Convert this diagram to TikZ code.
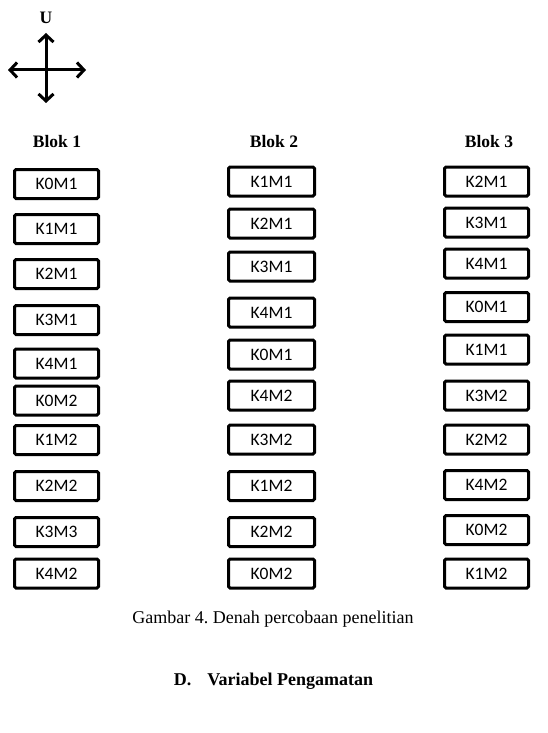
\documentclass[tikz,border=0pt]{standalone}
\usepackage{fontspec}
\setmainfont{Liberation Serif}
\newfontfamily\boxfont{Carlito}
\usetikzlibrary{arrows.meta}
\frenchspacing
\tikzset{
  plotbox/.style={draw, line width=3pt, rounded corners=1.5pt, minimum width=84pt, minimum height=29pt, inner sep=0pt, font=\boxfont\fontsize{17.5}{20}\selectfont},
  blocktitle/.style={font=\bfseries\fontsize{17.5}{20}\selectfont, inner sep=0pt},
  compass/.style={line width=3pt, {Straight Barb[length=7pt,width=15pt,line width=3pt]}-{Straight Barb[length=7pt,width=15pt,line width=3pt]}}
}
\begin{document}
\begin{tikzpicture}[x=1pt,y=-1pt]
\useasboundingbox (0,0) rectangle (548,733);
% compass
\node[blocktitle] (u) at (46,18) {U};
\coordinate (cn) at (46,33);
\coordinate (cs) at (46,103);
\coordinate (cw) at (8,70);
\coordinate (ce) at (86,70);
\draw[compass] (cn) -- (cs);
\draw[compass] (cw) -- (ce);
% titles
\node[blocktitle] (t1) at (57,142) {Blok 1};
\node[blocktitle] (t2) at (274,142) {Blok 2};
\node[blocktitle] (t3) at (489,142) {Blok 3};
% block 1
\node[plotbox] (a1) at (56.5,184) {K0M1};
\node[plotbox] (a2) at (56.5,229) {K1M1};
\node[plotbox] (a3) at (56.5,274) {K2M1};
\node[plotbox] (a4) at (56.5,320) {K3M1};
\node[plotbox] (a5) at (56.5,363.5) {K4M1};
\node[plotbox] (a6) at (56.5,400.5) {K0M2};
\node[plotbox] (a7) at (56.5,440) {K1M2};
\node[plotbox] (a8) at (56.5,486) {K2M2};
\node[plotbox] (a9) at (56.5,532) {K3M3};
\node[plotbox] (a10) at (56.5,573.5) {K4M2};
% block 2
\node[plotbox, minimum width=86pt] (b1) at (271.5,181.5) {K1M1};
\node[plotbox, minimum width=86pt] (b2) at (271.5,223.5) {K2M1};
\node[plotbox, minimum width=86pt] (b3) at (271.5,266.5) {K3M1};
\node[plotbox, minimum width=86pt] (b4) at (271.5,312.5) {K4M1};
\node[plotbox, minimum width=86pt] (b5) at (271.5,354.5) {K0M1};
\node[plotbox, minimum width=86pt] (b6) at (271.5,395.5) {K4M2};
\node[plotbox, minimum width=86pt] (b7) at (271.5,439.5) {K3M2};
\node[plotbox, minimum width=86pt] (b8) at (271.5,486) {K1M2};
\node[plotbox, minimum width=86pt] (b9) at (271.5,532) {K2M2};
\node[plotbox, minimum width=86pt] (b10) at (271.5,573.5) {K0M2};
% block 3
\node[plotbox] (c1) at (486.5,181.5) {K2M1};
\node[plotbox] (c2) at (486.5,222.5) {K3M1};
\node[plotbox] (c3) at (486.5,263.5) {K4M1};
\node[plotbox] (c4) at (486.5,307) {K0M1};
\node[plotbox] (c5) at (486.5,349.5) {K1M1};
\node[plotbox] (c6) at (486.5,395.5) {K3M2};
\node[plotbox] (c7) at (486.5,439.5) {K2M2};
\node[plotbox] (c8) at (486.5,485) {K4M2};
\node[plotbox] (c9) at (486.5,530) {K0M2};
\node[plotbox] (c10) at (486.5,573.5) {K1M2};
% caption
\node[font=\fontsize{18}{21}\selectfont, inner sep=0pt] (cap) at (273,619) {Gambar 4. Denah percobaan penelitian};
\node[font=\bfseries\fontsize{18}{21}\selectfont, inner sep=0pt] (sec) at (273.5,681) {D.\hspace{16pt}Variabel Pengamatan};
\end{tikzpicture}
\end{document}
